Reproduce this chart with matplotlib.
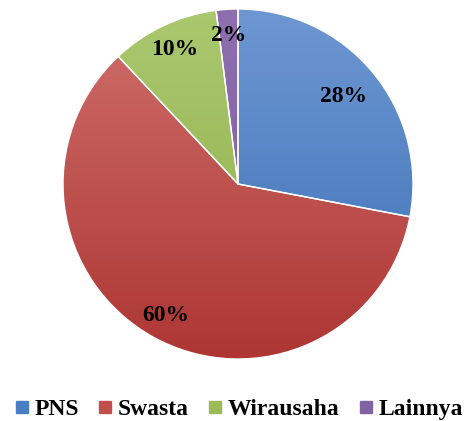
import matplotlib.pyplot as plt
from matplotlib.lines import Line2D
import numpy as np

categories = ["PNS", "Swasta", "Wirausaha", "Lainnya"]
values = [28, 60, 10, 2]
pct_labels = ["28%", "60%", "10%", "2%"]

# (top, bottom) colours of the vertical gradient in each slice
top_colors = ["#6e97d2", "#cf6f6c", "#aac86f", "#8e70b0"]
bottom_colors = ["#3a70b6", "#ad3633", "#8eae47", "#7a5a9e"]
legend_colors = ["#4a7ec2", "#c0504d", "#9bbb59", "#8064a2"]
label_dist = [0.78, 0.86, 0.85, 0.85]


def hex_rgb(h):
    return np.array([int(h[i:i + 2], 16) / 255 for i in (1, 3, 5)])


def main():
    fig = plt.figure(figsize=(4.69, 4.21), dpi=100)
    ax = fig.add_axes([0, 0, 1, 1])

    cx, cy, r = 238, 237, 175
    wedges, _ = ax.pie(values, startangle=90, counterclock=False,
                       center=(cx, cy), radius=r, frame=True,
                       wedgeprops=dict(edgecolor="white", linewidth=1.0))
    ax.set_xlim(0, 469)
    ax.set_ylim(0, 421)
    ax.set_aspect("auto")
    ax.axis("off")

    grad = np.linspace(0, 1, 256)[:, None]
    for w, c1, c2 in zip(wedges, top_colors, bottom_colors):
        w.set_facecolor("none")
        w.set_zorder(3)
        a, b = hex_rgb(c1), hex_rgb(c2)
        img = a[None, None, :] * (1 - grad[..., None]) + b[None, None, :] * grad[..., None]
        img = np.repeat(img, 2, axis=1)
        im = ax.imshow(img, extent=(cx - r, cx + r, cy - r, cy + r),
                       origin="upper", aspect="auto", zorder=2)
        im.set_clip_path(w)

    for w, lab, d in zip(wedges, pct_labels, label_dist):
        ang = np.deg2rad((w.theta1 + w.theta2) / 2)
        ax.text(cx + d * r * np.cos(ang), cy + d * r * np.sin(ang), lab,
                ha="center", va="center", fontsize=17, fontweight="bold",
                family="Liberation Serif", zorder=4)

    handles = [Line2D([], [], marker="s", linestyle="none", markersize=8.5,
                      markerfacecolor=c, markeredgecolor=c) for c in legend_colors]
    ax.legend(handles, categories, loc="center", bbox_to_anchor=(0.51, 12 / 421),
              ncol=4, frameon=False, handlelength=0.55, handletextpad=0.25,
              columnspacing=0.85, borderaxespad=0, borderpad=0,
              prop=dict(family="Liberation Serif", weight="bold", size=17))

    fig.savefig("out.png", dpi=100)


if __name__ == "__main__":
    main()
